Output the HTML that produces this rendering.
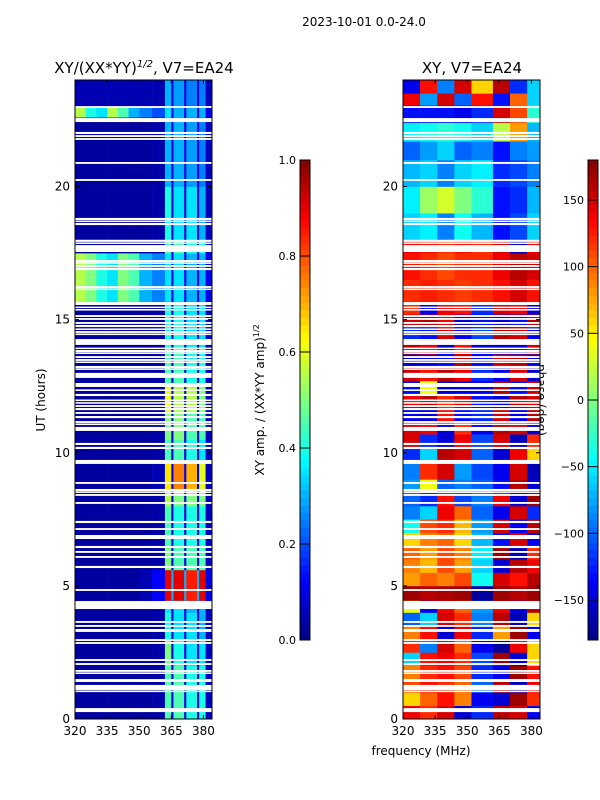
<!DOCTYPE html>
<html><head><meta charset="utf-8"><style>
body{margin:0;background:#fff;width:600px;height:800px;overflow:hidden;font-family:"Liberation Sans","DejaVu Sans",sans-serif}
svg{display:block}
text{font-family:"DejaVu Sans","Liberation Sans",sans-serif;fill:#000}
</style></head><body>
<svg id="fig" width="600" height="800">
<text x="364" y="26" font-size="12" text-anchor="middle">2023-10-01 0.0-24.0</text>
<text x="144" y="73" font-size="15" text-anchor="middle">XY/(XX*YY)<tspan dy="-6" font-size="10" font-style="italic">1/2</tspan><tspan dy="6">, V7=EA24</tspan></text>
<text x="472" y="73" font-size="15" text-anchor="middle">XY, V7=EA24</text>
<text x="45" y="400" font-size="12" text-anchor="middle" transform="rotate(-90 45 400)">UT (hours)</text>
<text x="421" y="755" font-size="12" text-anchor="middle">frequency (MHz)</text>
<text x="264" y="400" font-size="12" text-anchor="middle" transform="rotate(-90 264 400)">XY amp. / (XX*YY amp)<tspan dy="-5" font-size="8">1/2</tspan></text>
<text x="537" y="400" font-size="12" text-anchor="middle" transform="rotate(90 537 400)">phase (deg)</text>
<g id="g"></g>
</svg>
<script>
// ---- data ----
const ampFreqEdges=[320,325,330,335,340,345,350,356,362,365,366,371,372,377,378,381,384];
const ampTimeEdges=[0,1,2,3,4,4.45,5.6,6.5,8,8.6,9.6,10.5,11.5,12.5,14,15.6,17.5,18,20,22.6,23.0,24];
const ampValues=[
[0.03,0.03,0.03,0.03,0.03,0.03,0.03,0.04,0.45,0.1,0.45,0.1,0.4,0.1,0.4,0.06],
[0.03,0.03,0.03,0.03,0.03,0.03,0.03,0.04,0.45,0.1,0.45,0.1,0.4,0.1,0.4,0.06],
[0.03,0.03,0.03,0.03,0.03,0.03,0.03,0.04,0.5,0.1,0.4,0.1,0.35,0.1,0.35,0.06],
[0.03,0.03,0.03,0.03,0.03,0.03,0.03,0.04,0.4,0.1,0.35,0.1,0.35,0.1,0.3,0.06],
[0.03,0.03,0.03,0.03,0.03,0.03,0.03,0.04,0.35,0.1,0.35,0.1,0.3,0.1,0.3,0.06],
[0.03,0.03,0.03,0.03,0.03,0.03,0.05,0.12,0.9,0.3,0.9,0.3,0.85,0.3,0.9,0.1],
[0.03,0.03,0.03,0.03,0.03,0.03,0.03,0.04,0.5,0.1,0.45,0.1,0.45,0.1,0.45,0.06],
[0.03,0.03,0.03,0.03,0.03,0.03,0.03,0.04,0.45,0.1,0.4,0.1,0.4,0.1,0.4,0.06],
[0.03,0.03,0.03,0.03,0.03,0.03,0.03,0.04,0.55,0.1,0.5,0.1,0.5,0.1,0.5,0.06],
[0.03,0.03,0.03,0.03,0.03,0.03,0.03,0.05,0.65,0.12,0.75,0.12,0.7,0.12,0.6,0.06],
[0.03,0.03,0.03,0.03,0.03,0.03,0.03,0.04,0.45,0.1,0.45,0.1,0.4,0.1,0.35,0.06],
[0.03,0.03,0.03,0.03,0.03,0.03,0.03,0.04,0.5,0.1,0.5,0.1,0.45,0.1,0.45,0.06],
[0.03,0.03,0.03,0.03,0.03,0.03,0.03,0.04,0.6,0.1,0.55,0.1,0.55,0.1,0.5,0.06],
[0.03,0.03,0.03,0.03,0.03,0.03,0.03,0.04,0.45,0.1,0.45,0.1,0.4,0.1,0.4,0.06],
[0.03,0.03,0.03,0.03,0.03,0.03,0.03,0.04,0.4,0.1,0.4,0.1,0.35,0.1,0.35,0.06],
[0.55,0.5,0.4,0.35,0.5,0.45,0.3,0.25,0.35,0.12,0.35,0.12,0.3,0.12,0.3,0.1],
[0.03,0.03,0.03,0.03,0.03,0.03,0.03,0.04,0.45,0.1,0.45,0.1,0.4,0.1,0.4,0.06],
[0.03,0.03,0.03,0.03,0.03,0.03,0.03,0.04,0.4,0.1,0.35,0.1,0.35,0.1,0.3,0.06],
[0.03,0.03,0.03,0.03,0.03,0.03,0.03,0.04,0.3,0.1,0.3,0.1,0.28,0.1,0.25,0.06],
[0.55,0.4,0.35,0.55,0.45,0.3,0.25,0.2,0.35,0.12,0.3,0.12,0.3,0.12,0.3,0.1],
[0.05,0.05,0.05,0.05,0.05,0.05,0.05,0.05,0.3,0.1,0.28,0.1,0.25,0.1,0.25,0.06]
];
const phFreqEdges=[320,328,336,344,352,362,370,378,384];
const phTimeEdges=[0,0.5,1,1.5,2,2.5,3,3.5,4,4.45,5,5.5,6,6.5,7,7.5,8,8.5,9,9.7,10.2,10.7,11.2,11.7,12.2,12.7,13.2,13.7,14.2,14.7,15.2,15.6,16.5,17.5,18,19,20,21,21.7,22.4,23.05,23.5,24];
const phValues=[
[140,120,150,-150,-120,160,150,-140],
[60,100,130,90,-140,-150,170,120],
[110,130,120,100,-100,160,-160,140],
[90,120,130,110,-120,-140,170,130],
[-60,130,140,120,-110,170,-150,60],
[120,-90,150,100,-140,-170,140,60],
[90,130,-150,140,-120,80,170,-140],
[-100,-60,150,120,-90,160,-160,60],
[40,-140,140,100,-80,140,-150,160],
[170,160,165,170,-170,170,160,170],
[80,100,90,110,-40,150,130,160],
[90,70,110,80,-60,-150,160,140],
[100,80,110,90,-50,170,-160,120],
[60,90,100,60,-70,-130,150,-140],
[-40,110,120,70,-80,150,-140,160],
[-90,-60,140,100,-100,-140,150,-120],
[-100,-120,130,-110,-90,140,-150,170],
[-80,40,-100,-90,-100,-130,160,-150],
[-90,120,150,-80,-110,-140,150,-160],
[-120,-60,160,150,-100,-150,140,60],
[150,-120,-150,140,-110,150,-160,120],
[150,140,-150,120,-140,160,150,-150],
[-140,-150,130,-130,-120,150,-140,160],
[140,160,120,150,-130,-150,160,150],
[-130,40,-150,-140,-140,160,-130,150],
[150,130,160,140,-120,-140,150,-150],
[-150,-140,-130,160,-130,150,160,-140],
[160,140,-150,130,-140,-150,-140,150],
[-120,-130,150,-140,-110,160,150,-140],
[150,160,140,-150,-130,-150,-130,160],
[120,-140,140,130,-120,150,140,-150],
[120,125,120,115,120,130,150,130],
[130,120,110,120,120,140,160,150],
[140,130,120,130,120,150,-160,140],
[-60,-50,-90,-40,-70,-130,-110,-60],
[-50,10,30,0,-30,-130,-120,-70],
[-70,-60,-90,-60,-50,-120,-110,-90],
[-100,-80,-60,-100,-90,-130,-90,-80],
[-50,-40,-30,-40,-60,20,80,-70],
[-130,-130,-130,-140,-120,150,110,-30],
[140,-80,150,-100,130,-130,100,-60],
[-140,130,-90,150,60,160,-120,-60]
];
const flagStart=[0.26,1.01,1.09,1.39,1.69,1.77,2.03,2.18,2.82,2.93,3.27,3.46,3.61,4.13,4.81,5.67,6.05,6.24,6.42,6.76,7.10,7.36,8.08,8.38,8.49,8.56,8.83,9.58,10.14,10.29,10.82,11.04,11.12,11.30,11.46,11.60,11.72,11.84,11.94,12.13,12.32,12.47,12.81,13.11,13.18,13.37,13.45,13.56,13.71,13.78,13.90,14.05,14.42,14.50,14.61,14.72,14.84,14.99,15.10,15.34,15.44,15.55,16.11,16.19,16.86,16.98,17.09,17.16,17.54,17.84,17.92,18.55,18.67,18.74,20.21,20.85,21.75,21.86,21.97,22.42,22.95];
const flagEnd=[0.41,1.07,1.28,1.50,1.75,1.84,2.10,2.25,2.89,3.00,3.38,3.53,3.68,4.43,4.88,5.75,6.12,6.31,6.50,6.91,7.17,7.44,8.15,8.45,8.55,8.64,8.90,9.73,10.22,10.37,10.97,11.10,11.19,11.38,11.53,11.68,11.79,11.90,12.00,12.21,12.38,12.62,13.00,13.17,13.26,13.43,13.52,13.63,13.77,13.86,13.95,14.27,14.48,14.57,14.67,14.80,14.91,15.06,15.17,15.40,15.49,15.66,16.17,16.26,16.94,17.05,17.15,17.24,17.80,17.90,18.00,18.63,18.72,18.82,20.28,20.92,21.82,21.93,22.05,22.57,23.02];
const xTicks=[320,335,350,365,380];
const yTicks=[0,5,10,15,20];
const ampCbTicks=[0,0.2,0.4,0.6,0.8,1.0];
const phCbTicks=[-150,-100,-50,0,50,100,150];

// ---- helpers ----
const NS='http://www.w3.org/2000/svg';
const G=document.getElementById('g');
function jet(v){v=Math.max(0,Math.min(1,v));
 const r=Math.max(0,Math.min(1,1.5-Math.abs(4*v-3)));
 const g=Math.max(0,Math.min(1,1.5-Math.abs(4*v-2)));
 const b=Math.max(0,Math.min(1,1.5-Math.abs(4*v-1)));
 return `rgb(${Math.round(r*255)},${Math.round(g*255)},${Math.round(b*255)})`;}
function el(tag,attrs,parent){const e=document.createElementNS(NS,tag);for(const k in attrs)e.setAttribute(k,attrs[k]);(parent||G).appendChild(e);return e;}
const PT=80,PB=719;
function yScale(h){return PB-(h/24)*(PB-PT);}
function makeX(left,right){return f=>left+(f-320)/(384-320)*(right-left);}

function panel(name,left,right,fEdges,tEdges,vals,cmap){
 const xs=makeX(left,right);
 const grp=el('g',{});
 
 
 for(let i=0;i<vals.length;i++){
  for(let j=0;j<vals[i].length;j++){
   const x0=xs(fEdges[j]),x1=xs(fEdges[j+1]),y0=yScale(tEdges[i+1]),y1=yScale(tEdges[i]);
   const r=el('rect',{x:x0,y:y0,width:x1-x0+0.3,height:y1-y0+0.3,fill:cmap(vals[i][j])},grp);
   
   
  }
 }
 for(let k=0;k<flagStart.length;k++){
  const y0=yScale(flagEnd[k]),y1=yScale(flagStart[k]);
  const r=el('rect',{x:left,y:y0,width:right-left,height:Math.max(1.5,y1-y0),fill:'#fff'},grp);
  
  
 }
 const fr=el('rect',{x:left,y:PT,width:right-left,height:PB-PT,fill:'none',stroke:'#000','stroke-width':1});
 
 
 xTicks.forEach(t=>{const x=xs(t);
  el('line',{x1:x,x2:x,y1:PB,y2:PB-4,stroke:'#000'});el('line',{x1:x,x2:x,y1:PT,y2:PT+4,stroke:'#000'});
  const tx=el('text',{x:x,y:PB+16,'font-size':12,'text-anchor':'middle'});tx.textContent=t;
  
  
 });
 yTicks.forEach(t=>{const y=yScale(t);
  el('line',{x1:left,x2:left+4,y1:y,y2:y,stroke:'#000'});el('line',{x1:right,x2:right-4,y1:y,y2:y,stroke:'#000'});
  const tx=el('text',{x:left-5,y:y+4,'font-size':12,'text-anchor':'end'});tx.textContent=t;
  
  
 });
}
panel('amplitude-heatmap',75,212,ampFreqEdges,ampTimeEdges,ampValues,v=>jet(v));
panel('phase-heatmap',403,540,phFreqEdges,phTimeEdges,phValues,v=>jet((v+180)/360));

function colorbar(name,x,vmin,vmax,ticks,fmt){
 const top=160,bot=640,w=10;
 const grp=el('g',{});
 
 
 const n=64;
 for(let i=0;i<n;i++){
  const y0=bot-(i+1)*(bot-top)/n;
  el('rect',{x:x,y:y0,width:w,height:(bot-top)/n+0.5,fill:jet((i+0.5)/n)},grp);
 }
 el('rect',{x:x,y:top,width:w,height:bot-top,fill:'none',stroke:'#000'},grp);
 ticks.forEach(t=>{const y=bot-(t-vmin)/(vmax-vmin)*(bot-top);
  el('line',{x1:x,x2:x+w,y1:y,y2:y,stroke:'#000'},grp);
  const tx=el('text',{x:x-4,y:y+4,'font-size':11,'text-anchor':'end'},grp);tx.textContent=fmt(t);
  
  
 });
}
colorbar('amp-colorbar',300,0,1,ampCbTicks,t=>t.toFixed(1));
colorbar('phase-colorbar',588,-180,180,phCbTicks,t=>t<0?'\u2212'+(-t):String(t));
</script>
</body></html>
